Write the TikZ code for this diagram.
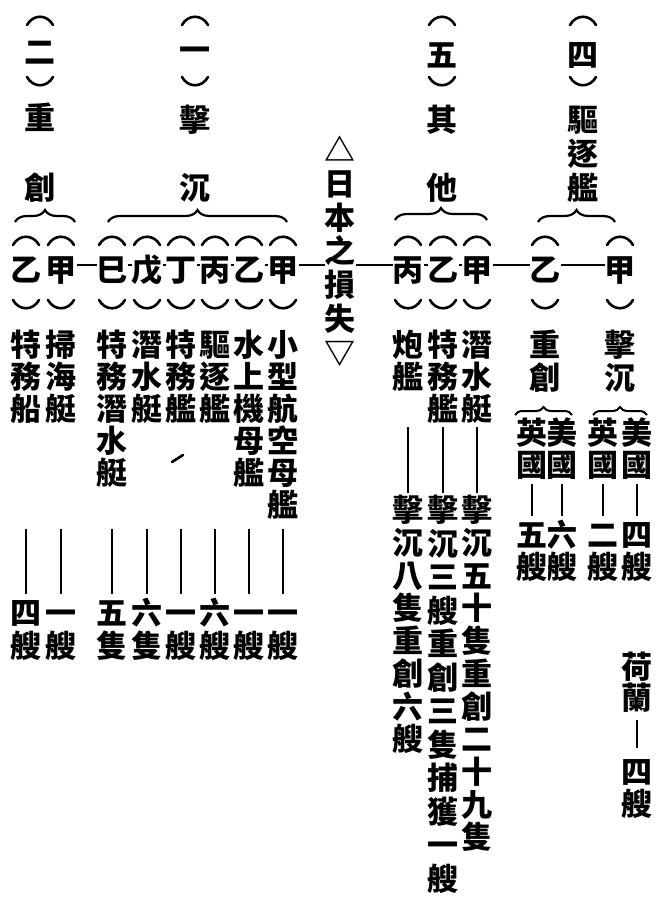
\documentclass[tikz,border=0pt]{standalone}
\usepackage{fontspec}
\newfontfamily\cjk{Noto Sans CJK TC}
\usetikzlibrary{decorations.pathreplacing,backgrounds}
\newcommand\vcol[5]{%
  \foreach \c [count=\i from 0] in {#5} {\node[ch] (#1-\i) at (#2,{#3+\i*#4}) {\c};}}
\newcommand\parT[2]{\draw[paren] (#1-13,#2+5) .. controls (#1-7,#2-6) and (#1+7,#2-6) .. (#1+13,#2+5);}
\newcommand\parB[2]{\draw[paren] (#1-13,#2-5) .. controls (#1-7,#2+6) and (#1+7,#2+6) .. (#1+13,#2-5);}
\begin{document}
\begin{tikzpicture}[x=1pt,y=-1pt,
  ch/.style={inner sep=0pt, font=\cjk\bfseries\fontsize{31}{31}\selectfont, text height=27.3pt, text depth=3.7pt, fill=white},
  paren/.style={line width=2.6pt, line cap=round},
  vline/.style={line width=2pt},
  hline/.style={line width=1.2pt},
  brc/.style={decorate, decoration={brace, amplitude=12pt}, line width=2.2pt},
  brs/.style={decorate, decoration={brace, amplitude=8pt}, line width=2pt}]
\useasboundingbox (0,0) rectangle (659,903);
% ---------- headings ----------
\parT{40}{20}\parB{40}{82}
\node[ch] (h2n) at (40,52) {二};
\node[ch] (h2a) at (40,118) {重};
\node[ch] (h2b) at (40,188) {創};
\parT{195}{20}\parB{195}{82}
\node[ch] (h1n) at (195,50) {一};
\node[ch] (h1a) at (195,120) {擊};
\node[ch] (h1b) at (195,188) {沉};
\parT{442}{20}\parB{442}{82}
\node[ch] (h5n) at (442,55) {五};
\node[ch] (h5a) at (442,120) {其};
\node[ch] (h5b) at (442,188) {他};
\parT{583}{20}\parB{583}{82}
\node[ch] (h4n) at (583,55) {四};
\vcol{h4}{583}{120}{34}{驅,逐,艦}
% ---------- title ----------
\vcol{t}{340}{150}{33.7}{△,日,本,之,損,失,▽}
% ---------- braces ----------
\draw[brc] (15,222) -- (75,222);
\draw[brc] (108,222) -- (287,222);
\draw[brc] (395,220) -- (487,220);
\draw[brc] (538,222) -- (615,222);
% ---------- sub labels ----------
\foreach \x/\n/\t in {26/s2b/乙,61/s2a/甲,112/s1f/巳,147/s1e/戊,181/s1d/丁,215/s1c/丙,249/s1b/乙,283/s1a/甲,408/s5c/丙,443/s5b/乙,477/s5a/甲,545/s4b/乙,620/s4a/甲}{
  \parT{\x}{240}\parB{\x}{305}
  \node[ch] (\n) at (\x,270) {\t};}
\begin{scope}[on background layer]
\draw[hline] ([yshift=5pt]s2a.center) -- ([yshift=5pt]s4a.center);
\end{scope}
% ---------- group (二) ----------
\vcol{i2a}{61}{345}{32}{掃,海,艇}
\vcol{i2b}{26}{345}{32}{特,務,船}
\vcol{c2a}{61}{613}{33}{一,艘}
\vcol{c2b}{26}{613}{33}{四,艘}
% ---------- group (一) ----------
\vcol{i1a}{283}{345}{32}{小,型,航,空,母,艦}
\vcol{i1b}{249}{345}{32}{水,上,機,母,艦}
\vcol{i1c}{215}{345}{32}{驅,逐,艦}
\vcol{i1d}{181}{345}{32}{特,務,艦}
\vcol{i1e}{147}{345}{32}{潛,水,艇}
\vcol{i1f}{112}{345}{32}{特,務,潛,水,艇}
\draw[line width=2.6pt, line cap=round] (172,462) -- (183,455);
\vcol{c1a}{283}{613}{33}{一,艘}
\vcol{c1b}{249}{613}{33}{一,艘}
\vcol{c1c}{215}{613}{33}{六,艘}
\vcol{c1d}{181}{613}{33}{一,艘}
\vcol{c1e}{147}{613}{33}{六,隻}
\vcol{c1f}{112}{613}{33}{五,隻}
\foreach \n in {c2a,c2b,c1a,c1b,c1c,c1d,c1e,c1f}{
  \draw[vline] (\n-0.north) ++(0,-3) -- ++(0,-65);}
% ---------- group (五) ----------
\vcol{i5a}{477}{345}{32}{潛,水,艇}
\vcol{i5b}{443}{345}{32}{特,務,艦}
\vcol{i5c}{408}{345}{32}{炮,艦}
\vcol{c5a}{477}{510}{32.7}{擊,沉,五,十,隻,重,創,二,十,九,隻}
\vcol{c5b}{443}{510}{33.5}{擊,沉,三,艘,重,創,三,隻,捕,獲,一,艘}
\vcol{c5c}{408}{510}{32.7}{擊,沉,八,隻,重,創,六,艘}
\foreach \n in {c5a,c5b,c5c}{
  \draw[vline] (\n-0.north) ++(0,-1) -- ++(0,-66);}
% ---------- group (四) ----------
\vcol{i4a}{620}{345}{33}{擊,沉}
\vcol{i4b}{545}{345}{33}{重,創}
\draw[brs] (593,415) -- (647,415);
\draw[brs] (515,415) -- (572,415);
\vcol{n4a}{637}{433}{32}{美,國}
\vcol{n4b}{603}{433}{32}{英,國}
\vcol{n4c}{562}{433}{32}{美,國}
\vcol{n4d}{532}{433}{32}{英,國}
\vcol{k4a}{637}{535}{32}{四,艘}
\vcol{k4b}{603}{535}{32}{二,艘}
\vcol{k4c}{562}{535}{32}{六,艘}
\vcol{k4d}{532}{535}{32}{五,艘}
\foreach \n/\m in {n4a/k4a,n4b/k4b,n4c/k4c,n4d/k4d}{
  \draw[vline, shorten <=3pt, shorten >=3pt] (\n-1) -- (\m-0);}
% ---------- Holland ----------
\vcol{hl}{637}{667}{31}{荷,蘭}
\vcol{hc}{637}{772}{32}{四,艘}
\draw[vline, shorten <=6pt, shorten >=8pt] (hl-1) -- (hc-0);
\end{tikzpicture}
\end{document}
